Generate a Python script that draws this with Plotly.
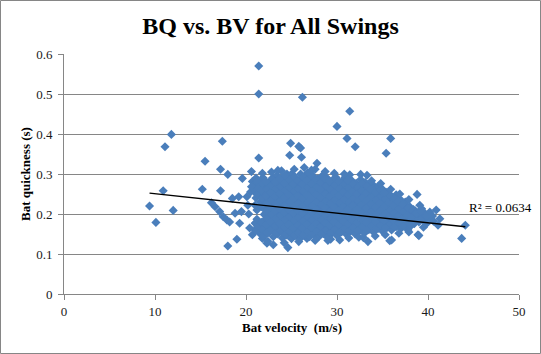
import plotly.graph_objects as go

# ---- data ----
# isolated / sparse swings (bat velocity m/s, bat quickness s)
sparse_v = [
    9.4, 10.1, 10.9, 11.1, 11.8, 12.0, 15.2, 15.5, 16.2, 16.6,
    17.2, 17.2, 17.4, 17.1, 17.5, 17.9, 18.0, 18.0, 18.2, 18.5,
    18.8, 19.0, 19.3, 19.2, 19.5, 19.6, 20.1, 20.6, 20.7, 20.7,
    21.0, 21.2, 21.4, 21.4, 21.4, 26.2, 31.4, 30.0, 31.1, 32.0,
    35.9, 35.4, 24.9, 25.8, 26.0, 24.8, 26.1, 27.8, 27.6, 21.8,
    24.5, 26.8, 32.6, 33.3, 31.4, 24.6, 23.0, 22.3, 21.8, 33.4,
    35.8, 38.9, 38.8, 36.5, 40.9, 39.3, 38.6, 44.1, 43.7, 39.0,
    39.5, 41.1, 40.3, 39.7, 36.0, 37.8, 30.3, 28.9, 26.7, 37.5,
    34.0,
]
sparse_q = [
    0.220, 0.179, 0.258, 0.368, 0.399, 0.209, 0.262, 0.332, 0.228, 0.218,
    0.258, 0.312, 0.382, 0.206, 0.193, 0.185, 0.120, 0.299, 0.180, 0.239,
    0.202, 0.137, 0.177, 0.243, 0.206, 0.289, 0.243, 0.306, 0.281, 0.148,
    0.177, 0.210, 0.570, 0.500, 0.340, 0.492, 0.457, 0.419, 0.389, 0.368,
    0.389, 0.352, 0.377, 0.369, 0.365, 0.347, 0.342, 0.327, 0.312, 0.302,
    0.300, 0.303, 0.299, 0.297, 0.298, 0.116, 0.123, 0.127, 0.139, 0.131,
    0.133, 0.148, 0.249, 0.248, 0.210, 0.213, 0.208, 0.172, 0.139, 0.146,
    0.167, 0.172, 0.187, 0.189, 0.135, 0.160, 0.135, 0.143, 0.139, 0.230,
    0.272,
]

# dense cloud of swings (one line per vertical strip of the cloud)
cloud_v = [
    21.0, 21.1, 21.0, 21.1, 20.9, 21.0, 21.1,
    21.5, 21.6, 21.6, 21.4, 21.5, 21.6,
    22.0, 22.1, 21.9, 22.0, 22.1, 21.9, 22.0, 22.1, 21.9,
    22.5, 22.6, 22.4, 22.5, 22.6, 22.4, 22.5, 22.6,
    23.0, 23.1, 22.9, 23.0, 23.1, 22.9, 23.0, 23.1, 22.9,
    23.5, 23.6, 23.4, 23.5, 23.6, 23.4, 23.5, 23.6, 23.4,
    24.0, 24.1, 23.9, 24.0, 24.1, 23.9, 24.0, 24.1, 23.9,
    24.5, 24.6, 24.4, 24.5, 24.6, 24.4, 24.5, 24.6, 24.4,
    25.0, 25.1, 24.9, 25.0, 25.1, 24.9, 25.0, 25.1, 24.9, 25.0,
    25.5, 25.6, 25.4, 25.5, 25.6, 25.4, 25.5, 25.6, 25.4,
    26.0, 26.1, 25.9, 26.0, 26.1, 25.9, 26.0, 26.1, 25.9, 26.0,
    26.5, 26.6, 26.4, 26.5, 26.6, 26.4, 26.5, 26.6, 26.4,
    27.0, 27.1, 26.9, 27.0, 27.1, 26.9, 27.0, 27.1, 26.9, 27.0,
    27.5, 27.6, 27.4, 27.5, 27.6, 27.4, 27.5, 27.6, 27.4,
    28.0, 28.1, 27.9, 28.0, 28.1, 27.9, 28.0, 28.1, 27.9,
    28.5, 28.6, 28.4, 28.5, 28.6, 28.4, 28.5, 28.6, 28.4,
    29.0, 29.1, 28.9, 29.0, 29.1, 28.9, 29.0, 29.1, 28.9,
    29.5, 29.6, 29.4, 29.5, 29.6, 29.4, 29.5, 29.6,
    30.0, 30.1, 29.9, 30.0, 30.1, 29.9, 30.0, 30.1, 29.9,
    30.5, 30.6, 30.4, 30.5, 30.6, 30.4, 30.5, 30.6,
    31.0, 31.1, 30.9, 31.0, 31.1, 30.9, 31.0, 31.1, 30.9,
    31.5, 31.6, 31.4, 31.5, 31.6, 31.4, 31.5, 31.6,
    32.0, 32.1, 31.9, 32.0, 32.1, 31.9, 32.0, 32.1,
    32.5, 32.6, 32.4, 32.5, 32.6, 32.4, 32.5, 32.6,
    33.0, 33.1, 32.9, 33.0, 33.1, 32.9, 33.0, 33.1,
    33.5, 33.6, 33.4, 33.5, 33.6, 33.4, 33.5,
    34.0, 34.1, 33.9, 34.0, 34.1, 33.9, 34.0,
    34.5, 34.6, 34.4, 34.5, 34.6, 34.4, 34.5,
    35.0, 35.1, 34.9, 35.0, 35.1, 34.9, 35.0,
    35.5, 35.6, 35.4, 35.5, 35.6, 35.4,
    36.0, 36.1, 35.9, 36.0, 36.1, 35.9,
    36.5, 36.6, 36.4, 36.5, 36.6,
    37.0, 37.1, 36.9, 37.0, 37.1,
    37.5, 37.6, 37.4, 37.5,
    38.0, 38.1, 37.9, 38.0,
    38.5, 38.6, 38.4,
    39.0, 39.1,
    39.5, 39.6,
    40.0,
]
cloud_q = [
    0.160, 0.178, 0.222, 0.240, 0.258, 0.276, 0.290,
    0.152, 0.170, 0.230, 0.249, 0.267, 0.285,
    0.145, 0.162, 0.181, 0.199, 0.217, 0.236, 0.254, 0.272, 0.290,
    0.153, 0.171, 0.190, 0.208, 0.226, 0.245, 0.263, 0.281,
    0.143, 0.161, 0.180, 0.198, 0.216, 0.235, 0.253, 0.271, 0.290,
    0.150, 0.168, 0.187, 0.205, 0.224, 0.242, 0.260, 0.279, 0.297,
    0.140, 0.158, 0.177, 0.195, 0.213, 0.232, 0.250, 0.268, 0.287,
    0.147, 0.165, 0.184, 0.202, 0.221, 0.239, 0.257, 0.276, 0.294,
    0.138, 0.156, 0.175, 0.193, 0.211, 0.230, 0.248, 0.266, 0.285, 0.300,
    0.145, 0.163, 0.182, 0.200, 0.218, 0.237, 0.255, 0.274, 0.292,
    0.140, 0.156, 0.174, 0.193, 0.211, 0.229, 0.248, 0.266, 0.284, 0.300,
    0.147, 0.165, 0.183, 0.202, 0.220, 0.238, 0.257, 0.275, 0.293,
    0.143, 0.158, 0.176, 0.194, 0.213, 0.231, 0.249, 0.268, 0.286, 0.301,
    0.149, 0.167, 0.185, 0.204, 0.222, 0.240, 0.259, 0.277, 0.294,
    0.143, 0.160, 0.178, 0.196, 0.215, 0.233, 0.251, 0.270, 0.288,
    0.151, 0.169, 0.187, 0.206, 0.224, 0.242, 0.261, 0.279, 0.296,
    0.145, 0.162, 0.180, 0.198, 0.217, 0.235, 0.253, 0.272, 0.290,
    0.153, 0.171, 0.189, 0.208, 0.226, 0.244, 0.263, 0.281,
    0.146, 0.164, 0.182, 0.200, 0.219, 0.237, 0.255, 0.274, 0.291,
    0.155, 0.173, 0.191, 0.210, 0.228, 0.246, 0.265, 0.283,
    0.150, 0.166, 0.184, 0.202, 0.221, 0.239, 0.257, 0.276, 0.292,
    0.157, 0.175, 0.193, 0.212, 0.230, 0.248, 0.267, 0.284,
    0.150, 0.168, 0.186, 0.204, 0.223, 0.241, 0.259, 0.277,
    0.159, 0.177, 0.195, 0.214, 0.232, 0.250, 0.269, 0.286,
    0.152, 0.170, 0.188, 0.206, 0.225, 0.243, 0.261, 0.279,
    0.161, 0.179, 0.197, 0.216, 0.234, 0.252, 0.270,
    0.155, 0.172, 0.190, 0.208, 0.227, 0.245, 0.263,
    0.163, 0.181, 0.199, 0.218, 0.236, 0.254, 0.268,
    0.157, 0.174, 0.192, 0.210, 0.229, 0.247, 0.262,
    0.166, 0.183, 0.201, 0.220, 0.238, 0.254,
    0.160, 0.176, 0.194, 0.212, 0.231, 0.247,
    0.168, 0.186, 0.204, 0.222, 0.240,
    0.163, 0.179, 0.197, 0.215, 0.233,
    0.171, 0.189, 0.207, 0.224,
    0.168, 0.183, 0.200, 0.218,
    0.176, 0.193, 0.211,
    0.180, 0.198,
    0.185, 0.203,
    0.190,
]

# second, interleaved layer of the dense cloud
inner_v = [
    21.3, 21.2, 21.2, 21.3, 21.2,
    21.8, 21.7, 21.7, 21.8, 21.7, 21.8,
    22.3, 22.2, 22.3, 22.2, 22.3, 22.2, 22.3, 22.2,
    22.8, 22.7, 22.8, 22.7, 22.8, 22.7, 22.8,
    23.3, 23.2, 23.3, 23.2, 23.3, 23.2, 23.3, 23.2,
    23.8, 23.7, 23.8, 23.7, 23.8, 23.7, 23.8, 23.7,
    24.3, 24.2, 24.3, 24.2, 24.3, 24.2, 24.3, 24.2, 24.3,
    24.8, 24.7, 24.8, 24.7, 24.8, 24.7, 24.8, 24.7,
    25.3, 25.2, 25.3, 25.2, 25.3, 25.2, 25.3, 25.2, 25.3,
    25.8, 25.7, 25.8, 25.7, 25.8, 25.7, 25.8, 25.7,
    26.3, 26.2, 26.3, 26.2, 26.3, 26.2, 26.3, 26.2, 26.3,
    26.8, 26.7, 26.8, 26.7, 26.8, 26.7, 26.8, 26.7,
    27.3, 27.2, 27.3, 27.2, 27.3, 27.2, 27.3, 27.2, 27.3,
    27.8, 27.7, 27.8, 27.7, 27.8, 27.7, 27.8, 27.7,
    28.3, 28.2, 28.3, 28.2, 28.3, 28.2, 28.3, 28.2,
    28.8, 28.7, 28.8, 28.7, 28.8, 28.7, 28.8, 28.7,
    29.3, 29.2, 29.3, 29.2, 29.3, 29.2, 29.3, 29.2,
    29.8, 29.7, 29.8, 29.7, 29.8, 29.7, 29.8, 29.7,
    30.3, 30.2, 30.3, 30.2, 30.3, 30.2, 30.3, 30.2,
    30.8, 30.7, 30.8, 30.7, 30.8, 30.7, 30.8,
    31.3, 31.2, 31.3, 31.2, 31.3, 31.2, 31.3, 31.2,
    31.8, 31.7, 31.8, 31.7, 31.8, 31.7, 31.8,
    32.3, 32.2, 32.3, 32.2, 32.3, 32.2, 32.3,
    32.8, 32.7, 32.8, 32.7, 32.8, 32.7, 32.8,
    33.3, 33.2, 33.3, 33.2, 33.3, 33.2, 33.3,
    33.8, 33.7, 33.8, 33.7, 33.8, 33.7,
    34.3, 34.2, 34.3, 34.2, 34.3, 34.2,
    34.8, 34.7, 34.8, 34.7, 34.8, 34.7,
    35.3, 35.2, 35.3, 35.2, 35.3, 35.2,
    35.8, 35.7, 35.8, 35.7, 35.8,
    36.3, 36.2, 36.3, 36.2, 36.3,
    36.8, 36.7, 36.8, 36.7,
    37.3, 37.2, 37.3, 37.2,
    37.8, 37.7, 37.8,
    38.3, 38.2, 38.3,
    38.8, 38.7,
    39.3, 39.2,
    39.8,
]
inner_q = [
    0.169, 0.187, 0.249, 0.267, 0.282,
    0.161, 0.179, 0.218, 0.240, 0.258, 0.276,
    0.154, 0.172, 0.190, 0.208, 0.226, 0.245, 0.263, 0.281,
    0.162, 0.180, 0.199, 0.217, 0.235, 0.254, 0.272,
    0.152, 0.170, 0.189, 0.207, 0.225, 0.244, 0.262, 0.280,
    0.159, 0.177, 0.196, 0.214, 0.233, 0.251, 0.269, 0.288,
    0.149, 0.167, 0.186, 0.204, 0.222, 0.241, 0.259, 0.277, 0.296,
    0.156, 0.174, 0.193, 0.211, 0.230, 0.248, 0.266, 0.285,
    0.147, 0.165, 0.184, 0.202, 0.220, 0.239, 0.257, 0.275, 0.293,
    0.154, 0.172, 0.191, 0.209, 0.227, 0.246, 0.264, 0.283,
    0.148, 0.165, 0.183, 0.202, 0.220, 0.238, 0.257, 0.275, 0.292,
    0.156, 0.174, 0.192, 0.211, 0.229, 0.247, 0.266, 0.284,
    0.151, 0.167, 0.185, 0.203, 0.222, 0.240, 0.258, 0.277, 0.294,
    0.158, 0.176, 0.194, 0.213, 0.231, 0.249, 0.268, 0.286,
    0.152, 0.169, 0.187, 0.205, 0.224, 0.242, 0.260, 0.279,
    0.160, 0.178, 0.196, 0.215, 0.233, 0.251, 0.270, 0.288,
    0.154, 0.171, 0.189, 0.207, 0.226, 0.244, 0.262, 0.281,
    0.162, 0.180, 0.198, 0.217, 0.235, 0.253, 0.272, 0.289,
    0.155, 0.173, 0.191, 0.209, 0.228, 0.246, 0.264, 0.282,
    0.164, 0.182, 0.200, 0.219, 0.237, 0.255, 0.274,
    0.158, 0.175, 0.193, 0.211, 0.230, 0.248, 0.266, 0.284,
    0.166, 0.184, 0.202, 0.221, 0.239, 0.257, 0.275,
    0.159, 0.177, 0.195, 0.213, 0.232, 0.250, 0.268,
    0.168, 0.186, 0.204, 0.223, 0.241, 0.259, 0.277,
    0.161, 0.179, 0.197, 0.215, 0.234, 0.252, 0.270,
    0.170, 0.188, 0.206, 0.225, 0.243, 0.261,
    0.164, 0.181, 0.199, 0.217, 0.236, 0.254,
    0.172, 0.190, 0.208, 0.227, 0.245, 0.260,
    0.166, 0.183, 0.201, 0.219, 0.238, 0.254,
    0.175, 0.192, 0.210, 0.229, 0.245,
    0.168, 0.185, 0.203, 0.221, 0.239,
    0.177, 0.195, 0.213, 0.231,
    0.171, 0.188, 0.206, 0.224,
    0.180, 0.198, 0.215,
    0.175, 0.192, 0.209,
    0.184, 0.202,
    0.189, 0.207,
    0.194,
]

# ragged edge of the cloud
edge_v = [
    22.8, 23.9, 25.3, 27.2, 28.7, 29.7, 30.8, 24.2, 25.8, 27.6,
    29.3, 31.3, 32.4, 34.2, 35.3, 36.8, 37.9, 33.8, 34.8, 35.9,
    36.9, 37.9, 39.1, 40.2, 40.5, 39.8, 40.6, 41.3, 20.4, 20.3,
    20.5, 20.2, 22.4, 23.5, 26.4, 29.0, 32.9, 20.6,
]
edge_q = [
    0.305, 0.308, 0.312, 0.310, 0.306, 0.302, 0.300, 0.128, 0.131, 0.134,
    0.137, 0.140, 0.142, 0.145, 0.148, 0.152, 0.155, 0.283, 0.276, 0.262,
    0.250, 0.236, 0.222, 0.205, 0.195, 0.175, 0.182, 0.188, 0.165, 0.200,
    0.255, 0.222, 0.132, 0.309, 0.316, 0.134, 0.141, 0.268,
]

# linear trendline
trend_slope = -0.00242
trend_intercept = 0.2748
r_squared_label = "R\u00b2 = 0.0634"

x_ticks = [0, 10, 20, 30, 40, 50]
y_ticks = [0, 0.1, 0.2, 0.3, 0.4, 0.5, 0.6]

# ---- figure ----
for a, b in [(sparse_v, sparse_q), (cloud_v, cloud_q), (inner_v, inner_q), (edge_v, edge_q)]:
    if len(a) != len(b):
        raise ValueError(f"length mismatch {len(a)} vs {len(b)}")

bat_velocity = sparse_v + cloud_v + inner_v + edge_v
bat_quickness = sparse_q + cloud_q + inner_q + edge_q

x_lo, x_hi = min(bat_velocity), max(bat_velocity)
trend_x = [x_lo, x_hi]
trend_y = [trend_intercept + trend_slope * v for v in trend_x]

ML, MR, MT, MB = 64, 22, 54, 60
W, H = 541, 354
PW, PH = W - ML - MR, H - MT - MB
GRAY = "#868686"
FONT = "Liberation Serif"

fig = go.Figure()
fig.add_trace(go.Scatter(
    x=bat_velocity, y=bat_quickness, mode="markers",
    marker=dict(symbol="diamond", size=7, color="#4A7EBB", line=dict(width=0)),
    showlegend=False, cliponaxis=False,
))
fig.add_trace(go.Scatter(
    x=trend_x, y=trend_y, mode="lines",
    line=dict(color="black", width=1.3), showlegend=False,
))

fig.update_layout(
    width=W, height=H,
    margin=dict(l=ML, r=MR, t=MT, b=MB),
    paper_bgcolor="white", plot_bgcolor="white",
    font=dict(family=FONT, size=13, color="#1a1a1a"),
    title=dict(text="<b>BQ vs. BV for All Swings</b>", x=0.5, xanchor="center",
               xref="container", yref="container", y=1 - 26 / H, yanchor="middle",
               font=dict(family=FONT, size=24, color="black")),
    xaxis=dict(range=[0, 50], tickvals=x_ticks, ticks="outside", ticklen=5,
               tickcolor=GRAY, showline=True, linecolor=GRAY, linewidth=1,
               showgrid=False, zeroline=False, fixedrange=True,
               tickfont=dict(family=FONT, size=13, color="#1a1a1a")),
    yaxis=dict(range=[0, 0.6], tickvals=y_ticks, ticks="outside", ticklen=5,
               tickcolor=GRAY, showline=True, linecolor=GRAY, linewidth=1,
               showgrid=True, gridcolor=GRAY, gridwidth=1, zeroline=False,
               fixedrange=True, ticklabelstandoff=3,
               tickfont=dict(family=FONT, size=13, color="#1a1a1a")),
    shapes=[dict(type="rect", xref="paper", yref="paper",
                 x0=(0.5 - ML) / PW, x1=(W - 0.5 - ML) / PW,
                 y0=-(MB - 0.5) / PH, y1=1 + (MT - 0.5) / PH,
                 line=dict(color=GRAY, width=1), fillcolor="rgba(0,0,0,0)",
                 layer="below")],
    annotations=[
        dict(text="<b>Bat velocity\u00a0 (m/s)</b>", xref="paper", yref="paper",
             x=0.5, y=-(327 - (H - MB)) / PH, xanchor="center", yanchor="middle",
             showarrow=False, font=dict(family=FONT, size=13, color="black")),
        dict(text="<b>Bat quickness (s)</b>", xref="paper", yref="paper",
             x=(25 - ML) / PW, y=0.5, textangle=-90, xanchor="center",
             yanchor="middle", showarrow=False,
             font=dict(family=FONT, size=13, color="black")),
        dict(text=r_squared_label, xref="x", yref="y", x=x_hi + 0.15,
             y=0.216, xanchor="left", yanchor="middle", showarrow=False,
             font=dict(family=FONT, size=13, color="black")),
    ],
)

fig.write_html("out.html")
